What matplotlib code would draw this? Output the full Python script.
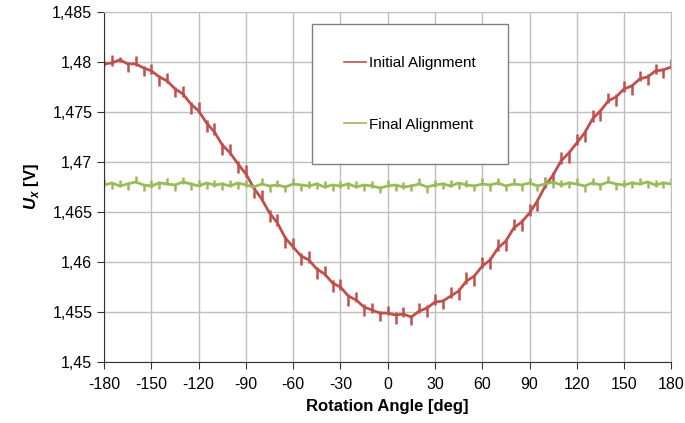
import numpy as np
import matplotlib.pyplot as plt
from matplotlib.ticker import FixedLocator, FuncFormatter

plt.rcParams['font.family'] = ['Liberation Sans', 'DejaVu Sans']
plt.rcParams['mathtext.fontset'] = 'custom'
plt.rcParams['mathtext.bfit'] = 'Liberation Sans:bold:italic'
plt.rcParams['mathtext.bf'] = 'Liberation Sans:bold'
plt.rcParams['axes.unicode_minus'] = False

angle = list(range(-180, 181, 5))

initial = [1.4798, 1.4799, 1.4802, 1.4798, 1.4798, 1.4794, 1.4791, 1.4785, 1.4781, 1.4773,
           1.4768, 1.4758, 1.4751, 1.4739, 1.4730, 1.4717, 1.4709, 1.4698, 1.4688, 1.4674,
           1.4663, 1.4649, 1.4639, 1.4624, 1.4615, 1.4606, 1.4602, 1.4593, 1.4588, 1.4579,
           1.4575, 1.4566, 1.4562, 1.4555, 1.4552, 1.4549, 1.4549, 1.4547, 1.4548, 1.4545,
           1.4551, 1.4554, 1.4560, 1.4561, 1.4566, 1.4571, 1.4581, 1.4586, 1.4596, 1.4602,
           1.4614, 1.4621, 1.4634, 1.4640, 1.4649, 1.4661, 1.4676, 1.4687, 1.4701, 1.4709,
           1.4719, 1.4729, 1.4743, 1.4751, 1.4761, 1.4765, 1.4773, 1.4776, 1.4783, 1.4785,
           1.4791, 1.4792, 1.4795]

initial_lo = [0.0002, 0.0003, 0.0002, 0.0008, 0.0002, 0.0008, 0.0003, 0.0009, 0.0002, 0.0008,
              0.0003, 0.0010, 0.0002, 0.0009, 0.0003, 0.0010, 0.0002, 0.0009, 0.0003, 0.0010,
              0.0002, 0.0009, 0.0003, 0.0010, 0.0002, 0.0009, 0.0003, 0.0010, 0.0002, 0.0009,
              0.0003, 0.0010, 0.0002, 0.0009, 0.0003, 0.0008, 0.0002, 0.0009, 0.0003, 0.0008,
              0.0002, 0.0009, 0.0003, 0.0008, 0.0002, 0.0009, 0.0003, 0.0010, 0.0002, 0.0009,
              0.0003, 0.0010, 0.0002, 0.0009, 0.0003, 0.0010, 0.0002, 0.0009, 0.0003, 0.0010,
              0.0002, 0.0009, 0.0003, 0.0010, 0.0002, 0.0009, 0.0003, 0.0009, 0.0002, 0.0008,
              0.0003, 0.0008, 0.0002]

initial_hi = [0.0003, 0.0008, 0.0003, 0.0002, 0.0008, 0.0002, 0.0007, 0.0002, 0.0008, 0.0002,
              0.0008, 0.0002, 0.0009, 0.0003, 0.0009, 0.0002, 0.0009, 0.0003, 0.0009, 0.0002,
              0.0009, 0.0003, 0.0009, 0.0002, 0.0009, 0.0003, 0.0009, 0.0002, 0.0008, 0.0003,
              0.0008, 0.0002, 0.0008, 0.0003, 0.0007, 0.0002, 0.0007, 0.0003, 0.0007, 0.0002,
              0.0008, 0.0003, 0.0008, 0.0002, 0.0009, 0.0003, 0.0009, 0.0002, 0.0009, 0.0003,
              0.0009, 0.0002, 0.0009, 0.0003, 0.0009, 0.0002, 0.0009, 0.0003, 0.0009, 0.0002,
              0.0009, 0.0003, 0.0009, 0.0002, 0.0008, 0.0003, 0.0008, 0.0002, 0.0008, 0.0003,
              0.0007, 0.0002, 0.0008]

final = [1.4677, 1.4679, 1.4676, 1.4678, 1.4680, 1.4677, 1.4676, 1.4679, 1.4678, 1.4677,
         1.4680, 1.4678, 1.4676, 1.4679, 1.4677, 1.4678, 1.4676, 1.4679, 1.4677, 1.4675,
         1.4678, 1.4676, 1.4677, 1.4675, 1.4678, 1.4677, 1.4676, 1.4678, 1.4675, 1.4677,
         1.4676, 1.4678, 1.4675, 1.4677, 1.4676, 1.4674, 1.4676, 1.4677, 1.4675, 1.4676,
         1.4678, 1.4675, 1.4677, 1.4678, 1.4676, 1.4679, 1.4677, 1.4676, 1.4678, 1.4677,
         1.4679, 1.4676, 1.4678, 1.4677, 1.4679, 1.4676, 1.4678, 1.4680, 1.4677, 1.4679,
         1.4678, 1.4676, 1.4679, 1.4677, 1.4680, 1.4678, 1.4677, 1.4679, 1.4678, 1.4680,
         1.4677, 1.4679, 1.4678]

final_lo = [0.0001, 0.0006, 0.0001, 0.0006, 0.0001, 0.0006, 0.0002, 0.0006, 0.0001, 0.0006,
            0.0002, 0.0006, 0.0001, 0.0006, 0.0002, 0.0006, 0.0001, 0.0006, 0.0002, 0.0005,
            0.0001, 0.0006, 0.0002, 0.0005, 0.0001, 0.0006, 0.0002, 0.0005, 0.0001, 0.0006,
            0.0002, 0.0005, 0.0001, 0.0006, 0.0002, 0.0005, 0.0001, 0.0006, 0.0002, 0.0005,
            0.0001, 0.0006, 0.0002, 0.0005, 0.0001, 0.0006, 0.0002, 0.0005, 0.0001, 0.0006,
            0.0002, 0.0005, 0.0001, 0.0006, 0.0002, 0.0005, 0.0001, 0.0006, 0.0002, 0.0005,
            0.0001, 0.0006, 0.0002, 0.0005, 0.0001, 0.0006, 0.0002, 0.0005, 0.0001, 0.0006,
            0.0002, 0.0005, 0.0001]

final_hi = [0.0006, 0.0001, 0.0006, 0.0002, 0.0006, 0.0001, 0.0006, 0.0002, 0.0006, 0.0001,
            0.0005, 0.0002, 0.0006, 0.0001, 0.0005, 0.0002, 0.0006, 0.0001, 0.0005, 0.0002,
            0.0006, 0.0001, 0.0005, 0.0002, 0.0006, 0.0001, 0.0005, 0.0002, 0.0006, 0.0001,
            0.0005, 0.0002, 0.0006, 0.0001, 0.0005, 0.0002, 0.0006, 0.0001, 0.0005, 0.0002,
            0.0006, 0.0001, 0.0005, 0.0002, 0.0006, 0.0001, 0.0005, 0.0002, 0.0006, 0.0001,
            0.0005, 0.0002, 0.0006, 0.0001, 0.0005, 0.0002, 0.0006, 0.0001, 0.0005, 0.0002,
            0.0006, 0.0001, 0.0005, 0.0002, 0.0006, 0.0001, 0.0005, 0.0002, 0.0006, 0.0001,
            0.0005, 0.0002, 0.0006]

xticks = list(range(-180, 181, 30))
yticks = [1.45, 1.455, 1.46, 1.465, 1.47, 1.475, 1.48, 1.485]

red = "#c0504d"
green = "#9bbb59"

fig = plt.figure(figsize=(6.85, 4.23), dpi=100)
ax = fig.add_axes([0.152, 0.144, 0.828, 0.828])

ax.errorbar(angle, initial, yerr=[initial_lo, initial_hi], color=red, lw=2.0,
            elinewidth=1.8, capsize=0, label="Initial Alignment")
ax.errorbar(angle, final, yerr=[final_lo, final_hi], color=green, lw=2.0,
            elinewidth=1.8, capsize=0, label="Final Alignment")

ax.set_xlim(-180, 180)
ax.set_ylim(1.45, 1.485)
ax.xaxis.set_major_locator(FixedLocator(xticks))
ax.yaxis.set_major_locator(FixedLocator(yticks))
ax.yaxis.set_major_formatter(FuncFormatter(lambda v, p: ("%g" % round(v, 4)).replace(".", ",")))
ax.grid(True, color="#bfbfbf", lw=1)
ax.set_axisbelow(True)
for s in ["top", "right"]:
    ax.spines[s].set_color("#bfbfbf")
for s in ["left", "bottom"]:
    ax.spines[s].set_color("#333333")
ax.tick_params(direction="out", length=5, labelsize=11.5, color="#333333")
ax.tick_params(axis="x", pad=6)

ax.set_xlabel("Rotation Angle [deg]", fontsize=12, fontweight="bold", labelpad=5)
ax.set_ylabel(r"$\mathbfit{U}_{\mathbfit{x}}$ [V]", fontsize=12, fontweight="bold", labelpad=8)

handles, labels = ax.get_legend_handles_labels()
handles = [h[0] for h in handles]
leg = ax.legend(handles, labels, loc="upper left", bbox_to_anchor=(0.367, 0.965),
                fontsize=11, labelspacing=3.1, handlelength=1.4, handletextpad=0.2,
                borderpad=2.1, borderaxespad=0, fancybox=False, framealpha=1)
leg.get_frame().set_edgecolor("#808080")
for line in leg.get_lines():
    line.set_linewidth(1.2)

fig.savefig("out.png", dpi=100)
